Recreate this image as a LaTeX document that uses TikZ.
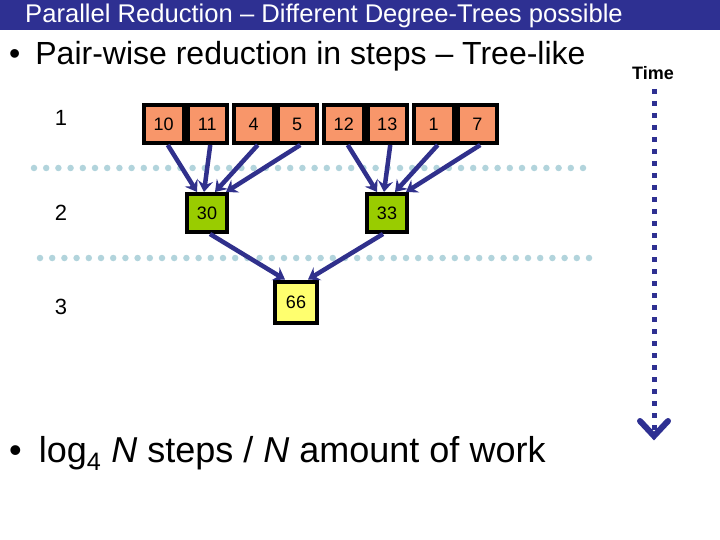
\documentclass[tikz,border=0pt]{standalone}
\usepackage{fontspec}
\setmainfont{Liberation Sans}
\usetikzlibrary{arrows.meta}
\definecolor{barblue}{RGB}{46,48,146}
\definecolor{arrblue}{RGB}{48,48,140}
\definecolor{salmon}{RGB}{248,150,106}
\definecolor{lgreen}{RGB}{153,204,0}
\definecolor{lyellow}{RGB}{255,255,110}
\definecolor{dotblue}{RGB}{178,212,220}
\tikzset{
  valbox/.style={draw=black, line width=4pt, minimum width=39.5pt, minimum height=38pt, inner sep=0pt, font=\fontsize{18}{20}\selectfont},
  topbox/.style={valbox, fill=salmon},
  greenbox/.style={valbox, fill=lgreen},
  yellowbox/.style={valbox, fill=lyellow, minimum width=42pt, minimum height=41pt},
  redarrow/.style={draw=arrblue, line width=4.5pt, -{Stealth[length=11pt,width=15pt,inset=4pt]}},
  sepline/.style={draw=dotblue, line width=6.5pt, line cap=round, dash pattern=on 0pt off 12.2pt},
  rowlabel/.style={font=\fontsize{22}{26}\selectfont},
}
\begin{document}
\begin{tikzpicture}[x=1pt,y=-1pt]
\useasboundingbox (0,0) rectangle (720,540);
\fill[white] (0,0) rectangle (720,540);
% title bar
\fill[barblue] (0,0) rectangle (720,30);
\node[text=white, font=\fontsize{25.6}{28}\selectfont, anchor=base west, inner sep=0pt] (title) at (25,23) {Parallel Reduction -- Different Degree-Trees possible};
% bullets
\node[font=\fontsize{32}{36}\selectfont, anchor=base west, inner sep=0pt] (b1) at (9,65) {\textbullet\hspace{15pt}Pair-wise reduction in steps -- Tree-like};
\node[font=\fontsize{36}{40}\selectfont, anchor=base west, inner sep=0pt] (b2) at (9,462) {\textbullet\hspace{17pt}log\textsubscript{4} \textit{N} steps / \textit{N} amount of work};
% time
\node[font=\bfseries\fontsize{18}{20}\selectfont, anchor=base, inner sep=0pt] (time) at (653,80) {Time};
\coordinate (tend) at (654,432);
\draw[draw=barblue, line width=5pt, dash pattern=on 5pt off 7pt] (654,89) -- (tend);
\draw[draw=barblue, line width=6pt, line cap=round, line join=miter] (640,421) -- (654,436) -- (668,421);
% separators
\draw[sepline] (34,168) -- (595,168);
\draw[sepline] (40,258) -- (600,258);
% row labels
\node[rowlabel] (r1) at (61,118) {1};
\node[rowlabel] (r2) at (61,213) {2};
\node[rowlabel] (r3) at (61,307) {3};
% top boxes
\node[topbox] (t1) at (163.75,124) {10};
\node[topbox] (t2) at (207.25,124) {11};
\node[topbox] (t3) at (253.75,124) {4};
\node[topbox] (t4) at (297.25,124) {5};
\node[topbox] (t5) at (343.75,124) {12};
\node[topbox] (t6) at (387.25,124) {13};
\node[topbox] (t7) at (433.75,124) {1};
\node[topbox] (t8) at (477.25,124) {7};
% second level
\node[greenbox] (g1) at (207,213) {30};
\node[greenbox] (g2) at (387,213) {33};
% third level
\node[yellowbox] (y1) at (296,302) {66};
% arrows
\draw[redarrow] ([xshift=4pt]t1.south) -- ([xshift=-10pt]g1.north);
\draw[redarrow] ([xshift=3pt]t2.south) -- ([xshift=-3pt]g1.north);
\draw[redarrow] ([xshift=4pt]t3.south) -- ([xshift=8pt]g1.north);
\draw[redarrow] ([xshift=3pt]t4.south) -- ([xshift=19pt]g1.north);
\draw[redarrow] ([xshift=4pt]t5.south) -- ([xshift=-10pt]g2.north);
\draw[redarrow] ([xshift=3pt]t6.south) -- ([xshift=-3pt]g2.north);
\draw[redarrow] ([xshift=4pt]t7.south) -- ([xshift=8pt]g2.north);
\draw[redarrow] ([xshift=3pt]t8.south) -- ([xshift=19pt]g2.north);
\draw[redarrow] ([xshift=3pt]g1.south) -- ([xshift=-11pt]y1.north);
\draw[redarrow] ([xshift=-4pt]g2.south) -- ([xshift=12pt]y1.north);
\end{tikzpicture}
\end{document}
